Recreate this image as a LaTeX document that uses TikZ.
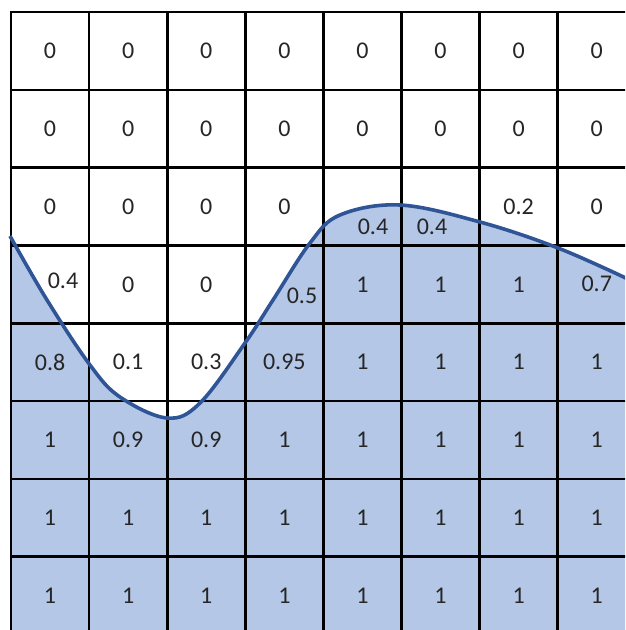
\documentclass[tikz,border=0pt]{standalone}
\usepackage{fontspec}
\setmainfont{Carlito}
\definecolor{fillblue}{HTML}{B4C7E7}
\definecolor{curveblue}{HTML}{2F5597}
\begin{document}
\begin{tikzpicture}[x=1pt,y=-1pt,
  lab/.style={font=\fontsize{24}{24}\selectfont, inner sep=0pt, text=black!85},
  gridline/.style={line width=2.6pt, black},
  boundary/.style={line width=3.6pt, curveblue}]
\useasboundingbox (0,0) rectangle (625,630);
\clip (0,0) rectangle (625,630);
\fill[white] (0,0) rectangle (625,630);
% shaded region under the curve
\fill[fillblue] plot[smooth, tension=0.6] coordinates {(11,238) (47,300) (90,365) (120,397) (167,418) (200,403) (245,343) (273,300) (310,243) (340,215) (400,205) (480,222) (558,248) (630,280)} -- (640,640) -- (11,640) -- cycle;
% grid
\foreach \i in {0,...,8} \draw[gridline] ({11+78.1*\i},12) -- ({11+78.1*\i},645);
\foreach \j in {0,...,8} \draw[gridline] (10,{12+77.8*\j}) -- (645,{12+77.8*\j});
% boundary curve
\draw[boundary] plot[smooth, tension=0.6] coordinates {(10,236) (47,300) (90,365) (120,397) (167,418) (200,403) (245,343) (273,300) (310,243) (340,215) (400,205) (480,222) (558,248) (630,280)};
% labels, uniform rows
\foreach \j/\v in {0/0,1/0,6/1,7/1}
  \foreach \i in {0,...,7}
    \node[lab] (r\j c\i) at ({11+78.1*(\i+0.5)},{12+77.8*(\j+0.5)}) {\v};
% row 2
\foreach \i/\v in {0/0,1/0,2/0,3/0,6/0.2,7/0}
  \node[lab] (r2c\i) at ({11+78.1*(\i+0.5)},{12+77.8*2.5}) {\v};
\node[lab] (r2c4) at (373,227) {0.4};
\node[lab] (r2c5) at (432,227) {0.4};
% row 3
\node[lab] (r3c0) at (63,281) {0.4};
\foreach \i/\v in {1/0,2/0,4/1,5/1,6/1,7/0.7}
  \node[lab] (r3c\i) at ({11+78.1*(\i+0.5)},{12+77.8*3.5}) {\v};
\node[lab] (r3c3) at (302,296) {0.5};
% row 4
\foreach \i/\v in {0/0.8,1/0.1,2/0.3,3/0.95,4/1,5/1,6/1,7/1}
  \node[lab] (r4c\i) at ({11+78.1*(\i+0.5)},{12+77.8*4.5}) {\v};
% row 5
\foreach \i/\v in {0/1,1/0.9,2/0.9,3/1,4/1,5/1,6/1,7/1}
  \node[lab] (r5c\i) at ({11+78.1*(\i+0.5)},{12+77.8*5.5}) {\v};
\end{tikzpicture}
\end{document}
